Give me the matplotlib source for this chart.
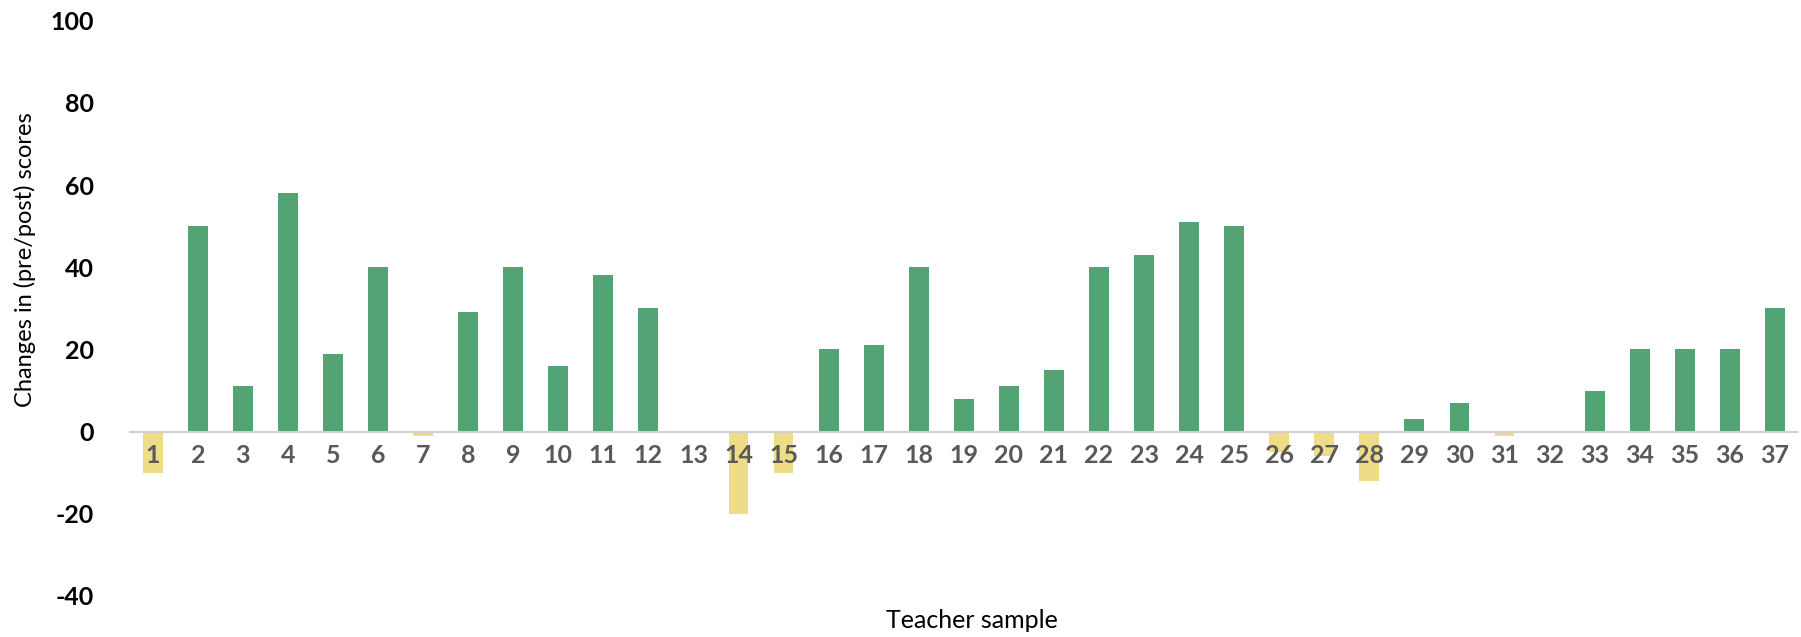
import matplotlib
matplotlib.use("Agg")
import matplotlib.pyplot as plt
import numpy as np

teachers = [str(i) for i in range(1, 38)]
changes = [-10, 50, 11, 58, 19, 40, -1, 29, 40, 16, 38, 30, 0, -20, -10,
           20, 21, 40, 8, 11, 15, 40, 43, 51, 50, -5, -6, -12, 3, 7,
           -1, 0, 10, 20, 20, 20, 30]
yticks = [-40, -20, 0, 20, 40, 60, 80, 100]

plt.rcParams['font.family'] = ['Lato', 'DejaVu Sans']

GREEN = '#53A475'
YELLOW = '#EEDD86'

fig = plt.figure(figsize=(18.01, 6.37), dpi=100)
ax = fig.add_axes([0.0723, 0.0644, 0.9257, 0.9031])

for s in ['top', 'right', 'left']:
    ax.spines[s].set_visible(False)
ax.spines['bottom'].set_position(('data', 0))
ax.spines['bottom'].set_color('#D0D0D0')
ax.spines['bottom'].set_linewidth(1.5)

x = np.arange(len(teachers))
colors = [GREEN if v >= 0 else YELLOW for v in changes]
ax.bar(x, changes, width=0.44, color=colors, zorder=1)

ax.set_xlim(-0.5, len(teachers) - 0.5)
ax.set_ylim(-40, 100)
ax.set_yticks(yticks)
ax.set_yticklabels([str(t) for t in yticks], fontsize=18, fontweight='bold', color='black')

ax.set_xticks(x)
ax.set_xticklabels(teachers, fontsize=18, fontweight='bold', color='#595959')

ax.tick_params(axis='x', length=0, pad=9)
ax.tick_params(axis='y', length=0, pad=26)

fig.text(972 / 1801, 1 - 621 / 637, 'Teacher sample', ha='center', va='center', fontsize=18)
fig.text(25 / 1801, 1 - 260 / 637, 'Changes in (pre/post) scores', ha='center', va='center',
         rotation=90, fontsize=17)

fig.savefig('out.png', dpi=100)
